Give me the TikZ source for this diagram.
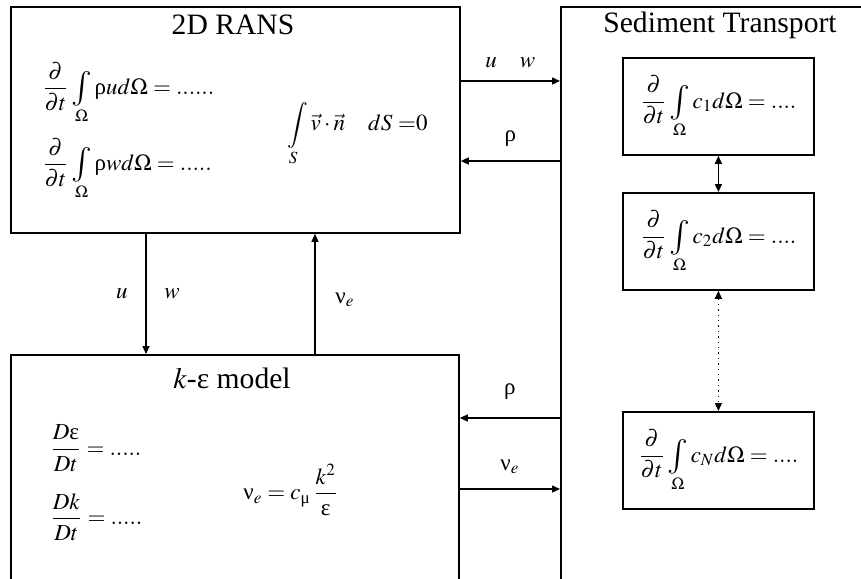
\documentclass[tikz,border=0pt]{standalone}
\usepackage{amsmath}
\usepackage{mathptmx}
\usepackage{fontspec}
\setmainfont{Liberation Serif}
\usetikzlibrary{arrows.meta}

\newcommand{\pdt}{\dfrac{\partial}{\partial t}}
\newcommand{\sint}{\mathop{\vcenter{\hbox{\resizebox{!}{13pt}{$\int$}}}}\limits}
\newcommand{\urho}{\text{ρ}}
\newcommand{\unu}{\text{ν}}
\newcommand{\ueps}{\text{ε}}
\newcommand{\umu}{\text{μ}}

\begin{document}
\begin{tikzpicture}[x=0.5pt, y=-0.5pt, >={Triangle[length=4pt,width=3.5pt]},
    box/.style={draw, line width=0.9pt, anchor=north west, inner sep=0pt},
    flow/.style={->, line width=0.7pt},
    title/.style={font=\fontsize{14.8}{17}\selectfont},
    eq/.style={font=\fontsize{11.5}{14}\selectfont, inner sep=0pt, anchor=west},
    lab/.style={font=\fontsize{11.5}{14}\selectfont}]
  \useasboundingbox (0,0) rectangle (861,578);
  \clip (0,0) rectangle (861,578);

  % the three models (the right and lower ones run off the page)
  \node[box, minimum width=224.5pt, minimum height=113pt] (rans) at (10,6) {};
  \node[box, minimum width=224pt, minimum height=130pt] (keps) at (10,354) {};
  \node[box, minimum width=170pt, minimum height=300pt] (sed) at (560,6) {};

  \node[title] (ranstitle) at (233,25) {2D RANS};
  \node[title] (kepstitle) at (232,378) {$k$-ε model};
  \node[title] (sedtitle) at (720,25) {Sediment Transport};

  % RANS equations
  \node[eq] (momu) at (42,93)
      {$\pdt\sint_{\Omega}\urho u d\Omega =......$};
  \node[eq] (momw) at (42,169)
      {$\pdt\sint_{\Omega}\urho w d\Omega = .....$};
  \node[eq] (cont) at (287,134)
      {$\displaystyle\int\limits_{S}\vec{v}\cdot\vec{n}\quad dS\ {=}0$};

  % k-epsilon equations
  \node[eq] (epseq) at (50,448) {$\dfrac{D\ueps}{Dt} = .....$};
  \node[eq] (keq) at (50,517) {$\dfrac{Dk}{Dt} = .....$};
  \node[eq] (nueq) at (243,490) {$\unu_e = c_{\umu}\,\dfrac{k^2}{\ueps}$};

  % sediment fractions
  \node[box, eq, minimum width=95.5pt, minimum height=48.5pt, anchor=north west] (c1) at (622,57)
      {$\pdt\sint_{\Omega}c_1 d\Omega = ....$};
  \node[box, eq, minimum width=95.5pt, minimum height=48.5pt, anchor=north west] (c2) at (622,192)
      {$\pdt\sint_{\Omega}c_2 d\Omega = ....$};
  \node[box, eq, minimum width=95.5pt, minimum height=48.5pt, anchor=north west] (cN) at (622,411)
      {$\pdt\sint_{\Omega}c_N d\Omega = ....$};
  \draw[<->, line width=0.7pt] (c1) -- (c2);
  \draw[<->, line width=0.7pt, dotted] (c2) -- (cN);

  % rows and columns of the exchanges
  \coordinate (rowuw) at (0,81);
  \coordinate (rowrhoa) at (0,161);
  \coordinate (rowrhob) at (0,418);
  \coordinate (rownu) at (0,489);
  \coordinate (coldown) at (146,0);
  \coordinate (colup) at (315,0);

  \draw[flow] (rans.east |- rowuw) -- node[lab, above=3pt] {$u\quad w$} (sed.west |- rowuw);
  \draw[flow] (sed.west |- rowrhoa) -- node[lab, above=3.5pt] {\urho} (rans.east |- rowrhoa);
  \draw[flow] (sed.west |- rowrhob) -- node[lab, above=5.5pt] {\urho} (keps.east |- rowrhob);
  \draw[flow] (keps.east |- rownu) -- node[lab, above=4pt] {$\unu_e$} (sed.west |- rownu);

  \draw[flow] (rans.south -| coldown) -- node[lab, left=5.5pt] {$u$} node[lab, right=5.5pt] {$w$}
      (keps.north -| coldown);
  \draw[flow] (keps.north -| colup) -- node[lab, right=6.5pt, pos=0.45] {$\unu_e$} (rans.south -| colup);
\end{tikzpicture}
\end{document}
